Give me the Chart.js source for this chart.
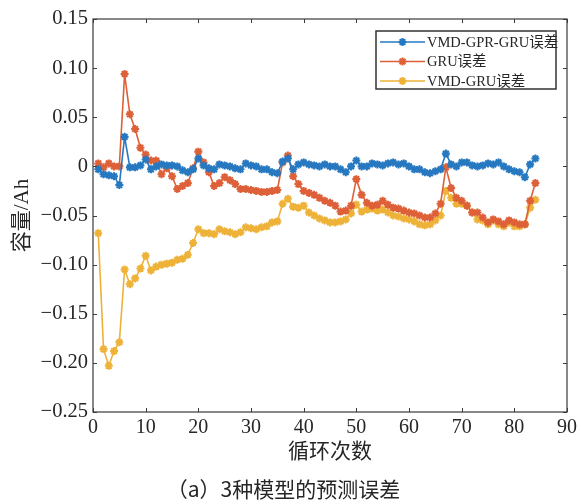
<!DOCTYPE html>
<html>
<head>
<meta charset="utf-8">
<script src="https://cdn.jsdelivr.net/npm/chart.js@4/dist/chart.umd.min.js"></script>
<style>
  html, body { margin: 0; padding: 0; background: #fff; }
  #wrap { width: 581px; height: 504px; }
</style>
</head>
<body>
<div id="wrap"><canvas id="canvas-error" width="581" height="504"></canvas></div>
<script>
// 循环次数
const cycles = [1,2,3,4,5,6,7,8,9,10,11,12,13,14,15,16,17,18,19,20,
  21,22,23,24,25,26,27,28,29,30,31,32,33,34,35,36,37,38,39,40,
  41,42,43,44,45,46,47,48,49,50,51,52,53,54,55,56,57,58,59,60,
  61,62,63,64,65,66,67,68,69,70,71,72,73,74,75,76,77,78,79,80,
  81,82,83,84];

// VMD-GPR-GRU 误差
const gprErr = [-0.003,-0.008,-0.009,-0.010,-0.019,0.030,-0.001,-0.001,0.001,0.007,
  -0.003,0.000,0.002,0.001,0.001,0.000,-0.004,-0.006,-0.003,0.008,
  0.001,-0.002,-0.003,0.002,0.001,0.000,-0.002,-0.003,0.003,0.001,
  0.000,-0.003,-0.003,-0.006,-0.007,0.005,0.008,-0.003,0.002,0.004,
  0.002,0.001,0.000,0.002,0.000,0.000,-0.003,-0.006,0.000,0.006,
  0.000,0.000,0.003,0.002,0.001,0.003,0.004,0.002,0.003,0.000,
  -0.003,-0.003,-0.006,-0.007,-0.005,-0.003,0.013,0.002,0.000,0.004,
  0.004,0.001,0.000,0.001,0.003,0.002,0.004,0.000,-0.003,-0.005,
  -0.006,-0.011,0.002,0.008];

// GRU 误差
const gruErr = [0.003,-0.001,0.003,0.000,0.000,0.094,0.053,0.038,0.019,0.012,
  0.006,0.006,-0.008,-0.002,-0.010,-0.023,-0.020,-0.017,-0.002,0.015,
  0.004,-0.006,-0.020,-0.017,-0.011,-0.014,-0.018,-0.023,-0.023,-0.024,
  -0.025,-0.026,-0.026,-0.025,-0.024,0.004,0.011,-0.010,-0.018,-0.025,
  -0.027,-0.029,-0.032,-0.035,-0.037,-0.040,-0.046,-0.045,-0.040,-0.013,
  -0.029,-0.037,-0.040,-0.039,-0.035,-0.039,-0.042,-0.043,-0.045,-0.047,
  -0.048,-0.050,-0.052,-0.052,-0.048,-0.038,-0.001,-0.022,-0.032,-0.035,
  -0.040,-0.047,-0.047,-0.052,-0.057,-0.054,-0.056,-0.059,-0.055,-0.057,
  -0.059,-0.059,-0.035,-0.017];

// VMD-GRU 误差
const vmdErr = [-0.068,-0.186,-0.203,-0.188,-0.179,-0.105,-0.120,-0.114,-0.104,-0.091,
  -0.106,-0.102,-0.100,-0.099,-0.098,-0.095,-0.094,-0.090,-0.078,-0.064,
  -0.068,-0.068,-0.069,-0.064,-0.066,-0.067,-0.069,-0.067,-0.062,-0.063,
  -0.064,-0.062,-0.061,-0.057,-0.056,-0.038,-0.033,-0.041,-0.042,-0.040,
  -0.047,-0.050,-0.053,-0.055,-0.057,-0.057,-0.056,-0.054,-0.048,-0.039,
  -0.046,-0.044,-0.043,-0.045,-0.044,-0.047,-0.050,-0.051,-0.053,-0.054,
  -0.056,-0.059,-0.060,-0.059,-0.055,-0.050,-0.025,-0.032,-0.038,-0.038,
  -0.040,-0.047,-0.054,-0.055,-0.059,-0.055,-0.059,-0.061,-0.057,-0.061,
  -0.061,-0.059,-0.042,-0.034];

const seriesNames = ['VMD-GPR-GRU误差', 'GRU误差', 'VMD-GRU误差'];
const xTicks = [0,10,20,30,40,50,60,70,80,90];
const yTicks = [0.15,0.10,0.05,0,-0.05,-0.10,-0.15,-0.20,-0.25];

const colors = ['rgb(38,120,192)', 'rgb(222,96,56)', 'rgb(238,178,56)'];
const serif = '"Liberation Serif", "Noto Sans CJK SC", serif';
const axisColor = '#3a3a3a';

function toPoints(ys) {
    return cycles.map((c, i) => ({ x: c, y: ys[i] }));
}

function makeSet(idx, ys) {
    return {
        label: seriesNames[idx],
        data: toPoints(ys),
        borderColor: colors[idx],
        backgroundColor: colors[idx],
        borderWidth: 1.6,
        pointStyle: 'star',
        pointRadius: 4,
        pointBorderWidth: 2.1,
        pointBorderColor: colors[idx],
        pointBackgroundColor: colors[idx],
        tension: 0
    };
}

// box around the axes with inward ticks, matlab style
const frame = {
    id: 'frame',
    afterDatasetsDraw(chart) {
        const { ctx, chartArea: a, scales } = chart;
        ctx.save();
        ctx.strokeStyle = axisColor;
        ctx.lineWidth = 1.2;
        ctx.strokeRect(a.left, a.top, a.right - a.left, a.bottom - a.top);
        ctx.lineWidth = 1;
        const len = 4;
        ctx.beginPath();
        xTicks.forEach(v => {
            const px = Math.round(scales.x.getPixelForValue(v)) + 0.5;
            ctx.moveTo(px, a.bottom); ctx.lineTo(px, a.bottom - len);
            ctx.moveTo(px, a.top); ctx.lineTo(px, a.top + len);
        });
        yTicks.forEach(v => {
            const py = Math.round(scales.y.getPixelForValue(v)) + 0.5;
            ctx.moveTo(a.left, py); ctx.lineTo(a.left + len, py);
            ctx.moveTo(a.right, py); ctx.lineTo(a.right - len, py);
        });
        ctx.stroke();
        ctx.restore();
    }
};

// legend box in the upper right of the axes
const boxLegend = {
    id: 'boxLegend',
    afterDraw(chart) {
        const { ctx, chartArea: a } = chart;
        const w = 180, rowH = 19.5, h = 58;
        const x0 = a.right - 11 - w, y0 = a.top + 12;
        ctx.save();
        ctx.fillStyle = '#fff';
        ctx.fillRect(x0, y0, w, h);
        ctx.strokeStyle = '#333';
        ctx.lineWidth = 1.5;
        ctx.strokeRect(x0, y0, w, h);
        ctx.font = '14.5px ' + serif;
        ctx.textBaseline = 'middle';
        chart.data.datasets.forEach((ds, i) => {
            const cy = y0 + 11 + i * rowH;
            ctx.strokeStyle = ds.borderColor;
            ctx.lineWidth = 1.6;
            ctx.beginPath();
            ctx.moveTo(x0 + 4, cy); ctx.lineTo(x0 + 49, cy);
            ctx.stroke();
            // star marker
            const cx = x0 + 26.5, r = 4;
            ctx.lineWidth = 2.1;
            ctx.beginPath();
            for (let k = 0; k < 4; k++) {
                const ang = k * Math.PI / 4;
                ctx.moveTo(cx + r * Math.cos(ang), cy + r * Math.sin(ang));
                ctx.lineTo(cx - r * Math.cos(ang), cy - r * Math.sin(ang));
            }
            ctx.stroke();
            ctx.fillStyle = '#262626';
            ctx.fillText(ds.label, x0 + 51, cy + 1);
        });
        ctx.restore();
    }
};

const canvas = document.getElementById('canvas-error');
const ctx = canvas.getContext('2d');
new Chart(ctx, {
    type: 'line',
    data: {
        datasets: [makeSet(0, gprErr), makeSet(1, gruErr), makeSet(2, vmdErr)]
    },
    options: {
        responsive: false,
        animation: false,
        devicePixelRatio: 1,
        layout: { padding: { left: 0, right: 14, top: 19, bottom: 0 } },
        scales: {
            x: {
                type: 'linear',
                min: 0,
                max: 90,
                afterBuildTicks: s => { s.ticks = xTicks.map(v => ({ value: v })); },
                afterFit: s => { s.height = 62.8; },
                grid: { display: false, drawTicks: false },
                border: { display: false },
                ticks: {
                    padding: 4,
                    color: '#262626',
                    font: { family: serif, size: 20 },
                    maxRotation: 0,
                    callback: v => String(v)
                },
                title: {
                    display: true,
                    text: '循环次数',
                    color: '#262626',
                    font: { family: serif, size: 21 },
                    padding: { top: 0, bottom: 10 }
                }
            },
            y: {
                min: -0.25,
                max: 0.15,
                afterBuildTicks: s => { s.ticks = yTicks.map(v => ({ value: v })); },
                afterFit: s => { s.width = 93; },
                grid: { display: false, drawTicks: false },
                border: { display: false },
                ticks: {
                    padding: 5,
                    color: '#262626',
                    font: { family: serif, size: 20.5 },
                    callback: v => Math.abs(v) < 1e-9 ? '0' : v.toFixed(2).replace('-', '\u2212')
                },
                title: {
                    display: true,
                    text: '容量/Ah',
                    color: '#262626',
                    font: { family: serif, size: 21 },
                    padding: { top: 10, bottom: 0 }
                }
            }
        },
        plugins: {
            legend: { display: false },
            tooltip: { enabled: false },
            title: {
                display: true,
                position: 'bottom',
                text: '（a）3种模型的预测误差',
                color: '#262626',
                font: { family: '"Noto Sans CJK SC", sans-serif', size: 21, weight: 'normal' },
                padding: { top: 2, bottom: 2 }
            }
        }
    },
    plugins: [frame, boxLegend]
});
</script>
</body>
</html>
